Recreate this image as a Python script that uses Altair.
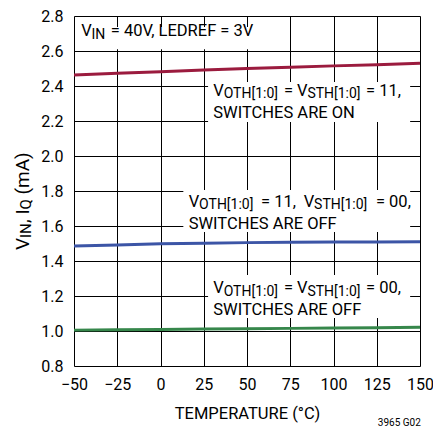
import altair as alt
import pandas as pd

# ---- data ----
temps = [-50, -25, 0, 25, 50, 75, 100, 125, 150]
iq_on = [2.463, 2.473, 2.482, 2.492, 2.500, 2.507, 2.515, 2.522, 2.530]
iq_oth = [1.486, 1.492, 1.498, 1.502, 1.505, 1.507, 1.508, 1.509, 1.510]
iq_off = [1.005, 1.007, 1.009, 1.011, 1.013, 1.015, 1.017, 1.019, 1.021]

series_names = ["on", "oth", "off"]
series_colors = ["#9b1b3e", "#3c55a6", "#36874b"]

x_ticks = [-50, -25, 0, 25, 50, 75, 100, 125, 150]
y_ticks = [0.8, 1.0, 1.2, 1.4, 1.6, 1.8, 2.0, 2.2, 2.4, 2.6, 2.8]

x_title = "TEMPERATURE (°C)"
footnote = "3965 G02"

# annotation text pieces (data coordinates), main size and subscript size
main_size = 16.5
sub_size = 14
seg_text = [
    "V", "IN", "= 40V, LEDREF = 3V",
    "V", "OTH[1:0]", "=", "V", "STH[1:0]", "= 11,", "SWITCHES ARE ON",
    "V", "OTH[1:0]", "= 11,", "V", "STH[1:0]", "= 00,", "SWITCHES ARE OFF",
    "V", "OTH[1:0]", "=", "V", "STH[1:0]", "= 00,", "SWITCHES ARE OFF",
]
seg_x = [
    -45.84, -39.9, -28.75,
    30.51, 36.5, 71.37, 78.95, 84.9, 118.83, 30.51,
    16.27, 22.3, 58.09, 82.76, 88.8, 124.53, 16.27,
    30.51, 36.5, 71.37, 78.95, 84.9, 118.83, 30.51,
]
seg_y = [
    2.684, 2.666, 2.684,
    2.343, 2.330, 2.343, 2.343, 2.330, 2.343, 2.215,
    1.710, 1.697, 1.710, 1.710, 1.697, 1.710, 1.581,
    1.215, 1.202, 1.215, 1.215, 1.202, 1.215, 1.091,
]
seg_sub = [
    0, 1, 0,
    0, 1, 0, 0, 1, 0, 0,
    0, 1, 0, 0, 1, 0, 0,
    0, 1, 0, 0, 1, 0, 0,
]

# white boxes behind the annotations (data coordinates)
box_x1 = [-49.0, 27.5, 13.2, 27.5]
box_x2 = [57.0, 144.3, 144.3, 144.3]
box_y1 = [2.737, 2.423, 1.806, 1.320]
box_y2 = [2.610, 2.194, 1.566, 1.074]

# rotated y-axis title pieces
yt_text = ["V", "IN", ", I", "Q", "(mA)"]
yt_x = [-75.8, -74.8, -75.8, -74.8, -75.8]
yt_y = [1.463, 1.531, 1.617, 1.694, 1.780]
yt_size = [19, 15, 19, 15, 19]

FONT = "Roboto"

# ---- tables ----
rows = []
for name, vals in zip(series_names, [iq_on, iq_oth, iq_off]):
    for t, v in zip(temps, vals):
        rows.append({"temp": t, "iq": v, "series": name})
lines_df = pd.DataFrame(rows)

seg_df = pd.DataFrame({
    "temp": seg_x, "iq": seg_y, "t": seg_text,
    "fs": [sub_size if s else main_size for s in seg_sub],
})
box_df = pd.DataFrame({"temp": box_x1, "temp2": box_x2, "iq": box_y1, "iq2": box_y2})
yt_df = pd.DataFrame({"temp": yt_x, "iq": yt_y, "t": yt_text, "fs": yt_size})
foot_df = pd.DataFrame({"temp": [150.5], "iq": [0.455], "t": [footnote]})

xscale = alt.Scale(domain=[-50, 150], nice=False, zero=False)
yscale = alt.Scale(domain=[0.8, 2.8], nice=False, zero=False)

xaxis = alt.Axis(
    values=x_ticks, format="d", grid=True, ticks=False, tickSize=0, domain=False,
    labelPadding=10, labelFontSize=16, labelFont=FONT, labelColor="black",
    labelOverlap=False, labelFlush=False,
    titleFont=FONT, titleFontSize=16.5, titleFontWeight="normal", titleColor="black",
    titleY=52, titleBaseline="alphabetic",
    gridColor="black", gridWidth=1, gridOpacity=1,
)
yaxis = alt.Axis(
    values=y_ticks, format=".1f", grid=True, ticks=False, tickSize=0, domain=False,
    labelPadding=11, labelFontSize=16, labelFont=FONT, labelColor="black",
    labelOverlap=False, labelFlush=False, labelBaseline="middle",
    gridColor="black", gridWidth=1, gridOpacity=1,
)

def X(field="temp"):
    return alt.X(f"{field}:Q", scale=xscale, axis=xaxis, title=x_title)

def Y(field="iq"):
    return alt.Y(f"{field}:Q", scale=yscale, axis=yaxis, title=None)

lines = alt.Chart(lines_df).mark_line(strokeWidth=3).encode(
    x=X(), y=Y(),
    color=alt.Color("series:N", scale=alt.Scale(domain=series_names, range=series_colors), legend=None),
    detail="series:N",
)

boxes = alt.Chart(box_df).mark_rect(fill="white").encode(
    x=X(), x2="temp2:Q", y=Y(), y2="iq2:Q",
)

texts = alt.Chart(seg_df).mark_text(align="left", baseline="alphabetic", font=FONT, color="black").encode(
    x=X(), y=Y(), text="t:N", size=alt.Size("fs:Q", scale=None, legend=None),
)

ytitle = alt.Chart(yt_df).mark_text(angle=270, align="left", baseline="alphabetic",
                                     font=FONT, color="black").encode(
    x=X(), y=Y(), text="t:N", size=alt.Size("fs:Q", scale=None, legend=None),
)

foot = alt.Chart(foot_df).mark_text(align="right", baseline="alphabetic", font=FONT,
                                    fontSize=10, color="black").encode(
    x=X(), y=Y(), text="t:N",
)

chart = alt.layer(lines, boxes, texts, ytitle, foot).properties(
    width=346, height=350,
    padding={"left": 66, "top": 8, "right": 13, "bottom": 62},
    autosize=alt.AutoSizeParams(type="none"),
).configure_view(stroke="black", strokeWidth=2).configure(background="white")

chart.save("out.html", embed_options={"renderer": "svg", "actions": False})
